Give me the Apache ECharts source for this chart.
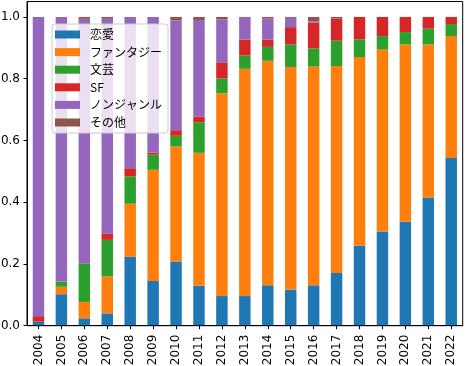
<!DOCTYPE html>
<html>
<head>
<meta charset="utf-8">
<script src="https://cdn.jsdelivr.net/npm/echarts@6/dist/echarts.min.js"></script>
<style>html,body{margin:0;padding:0;background:#fff;}#chart{width:465px;height:366px;}</style>
</head>
<body>
<div id="chart"></div>
<script>
const years = ['2004','2005','2006','2007','2008','2009','2010','2011','2012','2013','2014','2015','2016','2017','2018','2019','2020','2021','2022'];
const genres = ['恋愛','ファンタジー','文芸','SF','ノンジャンル','その他'];
const romance    = [0.013,0.102,0.024,0.040,0.223,0.145,0.208,0.129,0.096,0.096,0.131,0.117,0.131,0.171,0.259,0.305,0.337,0.415,0.543];
const fantasy    = [0.000,0.024,0.053,0.120,0.172,0.360,0.373,0.431,0.657,0.736,0.727,0.721,0.708,0.670,0.611,0.590,0.574,0.496,0.395];
const literary   = [0.000,0.016,0.124,0.118,0.089,0.049,0.034,0.099,0.048,0.043,0.045,0.073,0.059,0.082,0.057,0.043,0.040,0.051,0.039];
const sf         = [0.018,0.000,0.000,0.020,0.026,0.007,0.018,0.019,0.052,0.052,0.024,0.056,0.084,0.072,0.073,0.062,0.049,0.038,0.023];
const nonGenre   = [0.969,0.858,0.793,0.696,0.490,0.439,0.355,0.312,0.139,0.073,0.068,0.030,0.004,0.000,0.000,0.000,0.000,0.000,0.000];
const other      = [0.000,0.000,0.006,0.006,0.000,0.000,0.012,0.010,0.008,0.000,0.005,0.003,0.014,0.005,0.000,0.000,0.000,0.000,0.000];
const yTicks = [0,0.2,0.4,0.6,0.8,1.0];

const seriesData = [romance, fantasy, literary, sf, nonGenre, other];
const colors = ['#1f77b4','#ff7f0e','#2ca02c','#d62728','#9467bd','#8c564b'];

const chart = echarts.init(document.getElementById('chart'), null, {renderer:'canvas'});
chart.setOption({
  animation: false,
  color: colors,
  grid: {left: 27, right: 2.3, top: 1.5, bottom: 40.3, outerBoundsMode: 'none', containLabel: false, show: true, borderColor: '#000', borderWidth: 1, backgroundColor: 'transparent', z: 10},
  legend: {
    orient: 'vertical', left: 52, top: 24,
    data: genres,
    itemWidth: 25, itemHeight: 8, itemGap: 4.6,
    icon: 'rect',
    padding: [4, 6, 4, 3],
    backgroundColor: 'rgba(255,255,255,0.8)',
    borderColor: '#cccccc', borderWidth: 1, borderRadius: 3,
    textStyle: {fontFamily: 'Noto Sans CJK JP', fontSize: 12, color: '#000', lineHeight: 13, padding: [0,0,0,5]}
  },
  xAxis: {
    type: 'category', data: years,
    axisLine: {show: true, lineStyle: {color: '#000', width: 1}},
    axisTick: {show: true, alignWithLabel: true, length: 3.5, lineStyle: {color: '#000'}},
    axisLabel: {rotate: 90, margin: 9, fontFamily: 'DejaVu Sans', fontSize: 12, color: '#000', interval: 0},
    splitLine: {show: false}
  },
  yAxis: {
    type: 'value', min: 0, max: 1.05,
    axisLine: {show: true, lineStyle: {color: '#000', width: 1}},
    axisTick: {show: true, length: 3.5, lineStyle: {color: '#000'}, customValues: yTicks},
    axisLabel: {margin: 7, fontFamily: 'DejaVu Sans', fontSize: 12, color: '#000', customValues: yTicks, formatter: v => v.toFixed(1)},
    splitLine: {show: false}
  },
  series: genres.map((g, i) => ({
    name: g, type: 'bar', stack: 'total', barWidth: '50%',
    data: seriesData[i],
    itemStyle: {color: colors[i]}
  }))
});
</script>
</body>
</html>
